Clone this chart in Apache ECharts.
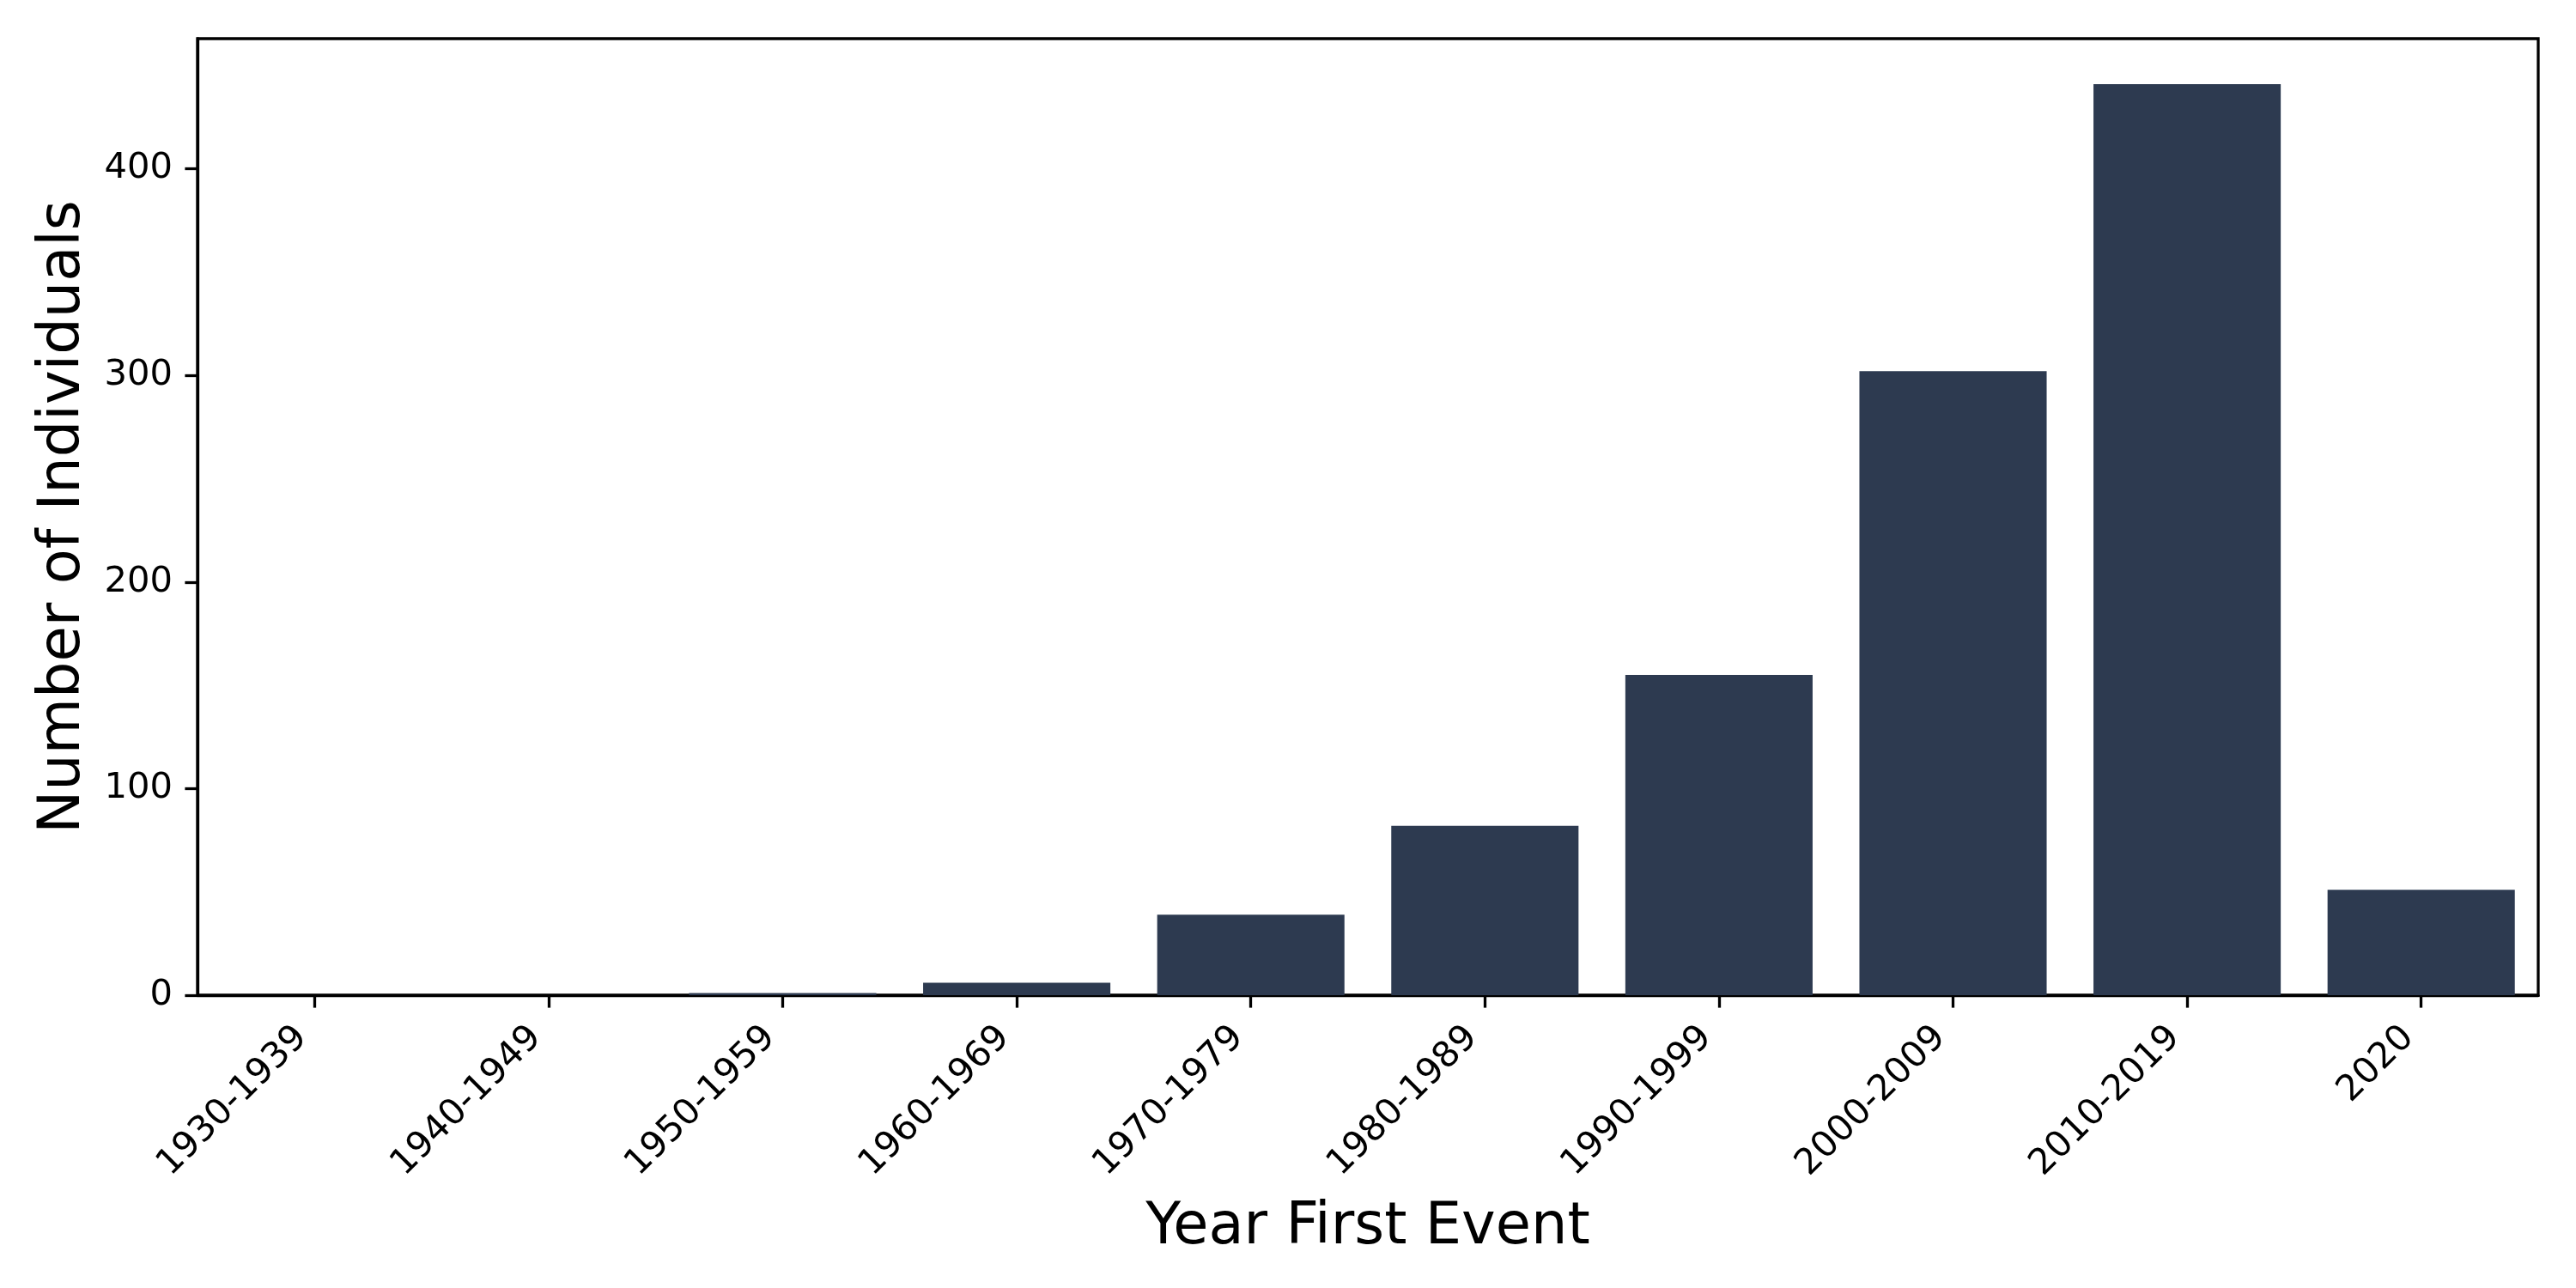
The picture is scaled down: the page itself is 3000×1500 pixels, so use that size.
<!DOCTYPE html>
<html>
<head>
<meta charset="utf-8">
<script src="https://cdn.jsdelivr.net/npm/echarts@6/dist/echarts.min.js"></script>
<style>
  html, body { margin: 0; padding: 0; background: #fff; }
  #main { width: 3000px; height: 1500px; }
</style>
</head>
<body>
<div id="main"></div>
<script>
// decades of first event and how many individuals fall in each
var decades = ['1930-1939', '1940-1949', '1950-1959', '1960-1969', '1970-1979',
               '1980-1989', '1990-1999', '2000-2009', '2010-2019', '2020'];
var individuals = [0, 0, 1, 6, 39, 82, 155, 302, 441, 51];
var yTicks = [0, 100, 200, 300, 400];

var font = 'DejaVu Sans';
var chart = echarts.init(document.getElementById('main'));

var option = {
  backgroundColor: '#ffffff',
  animation: false,
  grid: {
    left: 230,
    right: 44,
    top: 45,
    bottom: 341,
    show: true,
    borderColor: '#000',
    borderWidth: 3.3,
    backgroundColor: 'transparent'
  },
  xAxis: {
    type: 'category',
    data: decades,
    boundaryGap: true,
    name: 'Year First Event',
    nameLocation: 'middle',
    nameGap: 238,
    nameTextStyle: { fontFamily: font, fontSize: 67, color: '#000' },
    axisLine: { show: true, lineStyle: { color: '#000', width: 3.3 } },
    axisTick: { show: true, alignWithLabel: true, length: 14.6, lineStyle: { color: '#000', width: 3.3 } },
    axisLabel: {
      rotate: 45,
      interval: 0,
      margin: 58,
      align: 'right',
      verticalAlign: 'bottom',
      fontFamily: font,
      fontSize: 41.7,
      color: '#000'
    },
    splitLine: { show: false }
  },
  yAxis: {
    type: 'value',
    min: 0,
    max: 463,
    interval: 100,
    name: 'Number of Individuals',
    nameLocation: 'middle',
    nameGap: 122,
    nameTextStyle: { fontFamily: font, fontSize: 67, color: '#000' },
    axisLine: { show: true, lineStyle: { color: '#000', width: 3.3 } },
    axisTick: { show: true, length: 14.6, customValues: yTicks, lineStyle: { color: '#000', width: 3.3 } },
    axisLabel: {
      customValues: yTicks,
      margin: 29,
      fontFamily: font,
      fontSize: 41.7,
      color: '#000'
    },
    splitLine: { show: false }
  },
  series: [{
    type: 'bar',
    data: individuals,
    barCategoryGap: '20%',
    itemStyle: { color: '#2d3a50' }
  }]
};

chart.setOption(option);
</script>
</body>
</html>
